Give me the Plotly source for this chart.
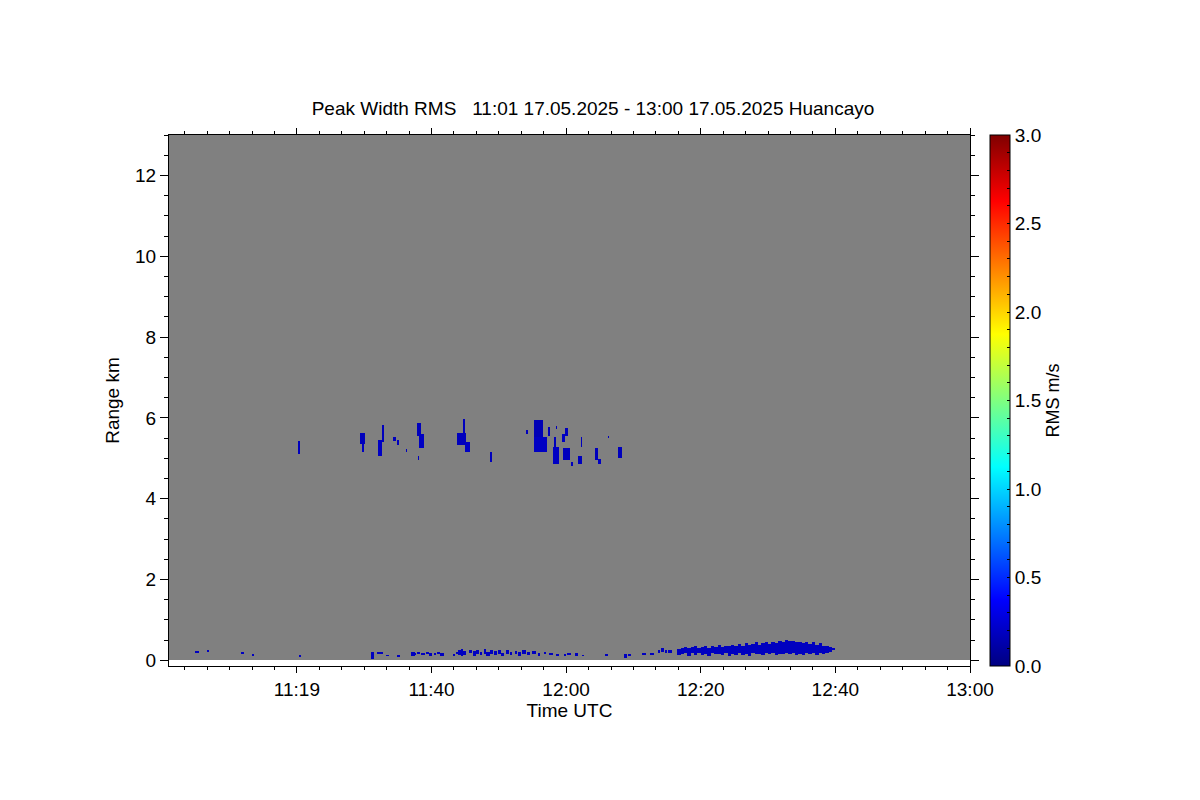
import numpy as np
import pandas as pd
import plotly.graph_objects as go

# ---------------- data (times in minutes after 11:00 UTC, 17.05.2025) ----------------
DAY_START = "2025-05-17 11:00:00"
T_FIRST_MIN = 1.0       # 11:01
T_LAST_MIN = 120.0      # 13:00
RANGE_MAX_KM = 13.0

# mid-level cloud echoes (~5-6 km)
cloud_t0 = [20.1, 29.4, 29.7, 32.6, 32.0, 34.3, 34.8, 36.2, 37.8, 38.1, 38.0,
            44.7, 43.8, 45.0, 48.7, 54.0, 55.2, 55.1, 57.3, 58.1, 58.0, 58.5,
            59.9, 59.4, 59.5, 60.6, 61.8, 62.1, 64.3, 64.6, 66.1, 67.6]
cloud_t1 = [20.5, 30.2, 30.0, 33.0, 32.7, 34.7, 35.1, 36.4, 38.5, 38.8, 38.2,
            45.0, 45.2, 45.6, 49.0, 54.3, 56.5, 57.2, 57.6, 58.5, 59.0, 58.7,
            60.3, 59.9, 60.5, 61.0, 62.4, 62.4, 64.6, 65.2, 66.3, 68.4]
cloud_bottom = [5.10, 5.35, 5.16, 5.40, 5.04, 5.42, 5.33, 5.14, 5.55, 5.26, 4.96,
                5.63, 5.33, 5.14, 4.91, 5.60, 5.38, 5.14, 5.55, 5.25, 4.86, 5.73,
                5.55, 5.40, 4.96, 4.79, 4.84, 5.28, 4.94, 4.84, 5.50, 4.99]
cloud_top = [5.42, 5.63, 5.35, 5.83, 5.45, 5.52, 5.45, 5.23, 5.88, 5.60, 5.06,
             5.98, 5.63, 5.40, 5.16, 5.70, 5.95, 5.53, 5.78, 5.53, 5.28, 5.80,
             5.75, 5.60, 5.26, 4.89, 5.04, 5.53, 5.26, 4.98, 5.55, 5.28]
cloud_rms = [0.18, 0.18, 0.20, 0.18, 0.20, 0.18, 0.18, 0.18, 0.18, 0.20, 0.18,
             0.18, 0.18, 0.20, 0.18, 0.18, 0.16, 0.20, 0.18, 0.18, 0.20, 0.18,
             0.18, 0.20, 0.18, 0.18, 0.18, 0.18, 0.18, 0.20, 0.18, 0.18]

# boundary-layer echoes near the ground (columns)
bl_t = [4.9, 5.1, 6.6, 11.7, 13.3, 20.3, 31.0, 31.9, 32.4, 33.2, 34.9,
        37.0, 37.3, 37.9, 38.5, 39.2, 39.6, 40.3, 40.9, 41.4,
        43.1, 43.6, 44.0, 44.3, 44.7, 45.5, 46.2, 46.6, 47.1, 47.8, 48.2, 48.7,
        49.3, 49.9, 50.4, 51.0, 51.6, 52.3, 52.9, 53.5, 54.2, 55.0, 55.8, 56.6,
        57.5, 58.5, 59.6, 60.2, 61.4, 62.3, 65.8, 68.6, 69.2, 71.4, 72.5,
        73.6, 74.1, 74.6, 75.2,
        76.5, 77.0, 77.5, 78.0, 78.5, 79.0, 79.5, 80.0, 80.5, 81.0, 81.5, 82.0,
        82.5, 83.0, 83.5, 84.0, 84.5, 85.0, 85.5, 86.0, 86.5, 87.0, 87.5, 88.0,
        88.5, 89.0, 89.5, 90.0, 90.5, 91.0, 91.5, 92.0, 92.5, 93.0, 93.5, 94.0,
        94.5, 95.0, 95.5, 96.0, 96.5, 97.0, 97.5, 98.0, 98.5, 99.0, 99.5]
bl_bottom = [0.18, 0.18, 0.20, 0.15, 0.10, 0.08, 0.02, 0.15, 0.14, 0.10, 0.08,
             0.10, 0.12, 0.14, 0.12, 0.14, 0.10, 0.13, 0.14, 0.10,
             0.10, 0.15, 0.12, 0.10, 0.12, 0.18, 0.10, 0.15, 0.12, 0.15, 0.10, 0.16,
             0.12, 0.15, 0.10, 0.15, 0.12, 0.15, 0.10, 0.16, 0.12, 0.14, 0.10, 0.14,
             0.12, 0.10, 0.10, 0.12, 0.10, 0.10, 0.10, 0.05, 0.10, 0.12, 0.13,
             0.17, 0.20, 0.18, 0.17,
             0.12, 0.15, 0.18, 0.11, 0.17, 0.13, 0.18, 0.12, 0.14, 0.10, 0.17, 0.14,
             0.15, 0.12, 0.17, 0.10, 0.16, 0.13, 0.18, 0.12, 0.15, 0.11, 0.17, 0.14,
             0.16, 0.12, 0.18, 0.14, 0.17, 0.12, 0.16, 0.14, 0.18, 0.15, 0.17, 0.12,
             0.16, 0.12, 0.17, 0.14, 0.18, 0.13, 0.17, 0.15, 0.18, 0.20, 0.25]
bl_top = [0.22, 0.22, 0.25, 0.20, 0.14, 0.13, 0.20, 0.20, 0.19, 0.13, 0.12,
          0.20, 0.18, 0.20, 0.17, 0.20, 0.18, 0.18, 0.20, 0.17,
          0.16, 0.20, 0.25, 0.27, 0.22, 0.24, 0.22, 0.25, 0.20, 0.27, 0.20, 0.24,
          0.22, 0.25, 0.18, 0.24, 0.20, 0.23, 0.20, 0.24, 0.20, 0.22, 0.18, 0.20,
          0.17, 0.15, 0.14, 0.17, 0.18, 0.13, 0.14, 0.15, 0.15, 0.17, 0.18,
          0.25, 0.30, 0.26, 0.24,
          0.28, 0.30, 0.33, 0.30, 0.32, 0.35, 0.30, 0.32, 0.35, 0.30, 0.36, 0.33,
          0.37, 0.32, 0.36, 0.35, 0.38, 0.36, 0.40, 0.35, 0.42, 0.38, 0.40, 0.44,
          0.38, 0.42, 0.45, 0.40, 0.46, 0.42, 0.47, 0.44, 0.50, 0.48, 0.47, 0.45,
          0.46, 0.42, 0.44, 0.40, 0.45, 0.38, 0.42, 0.36, 0.35, 0.32, 0.30]
BL_COLUMN_WIDTH_MIN = 0.45
BL_RMS = 0.19

tick_times = ["11:20", "11:40", "12:00", "12:20", "12:40", "13:00"]
tick_labels = ["11:19", "11:40", "12:00", "12:20", "12:40", "13:00"]
range_ticks = [0, 2, 4, 6, 8, 10, 12]

# ---------------- gridding ----------------
DT = 1.0 / 6.0          # 10 s
DR = 0.025              # 25 m
t_edges = np.arange(T_FIRST_MIN, T_LAST_MIN + DT / 2, DT)
r_edges = np.arange(0.0, RANGE_MAX_KM + DR / 2, DR)
t_c = 0.5 * (t_edges[:-1] + t_edges[1:])
r_c = 0.5 * (r_edges[:-1] + r_edges[1:])
z = np.full((len(r_c), len(t_c)), np.nan, dtype=np.float32)


def fill(t0, t1, b, tp, v):
    i0 = int(np.searchsorted(t_c, t0))
    i1 = max(int(np.searchsorted(t_c, t1)), i0 + 1)
    j0 = int(np.searchsorted(r_c, b))
    j1 = max(int(np.searchsorted(r_c, tp)), j0 + 1)
    z[j0:j1, i0:i1] = v


for a, b_, c, d, v in zip(cloud_t0, cloud_t1, cloud_bottom, cloud_top, cloud_rms):
    fill(a, b_, c, d, v)
for t, b_, tp in zip(bl_t, bl_bottom, bl_top):
    fill(t, t + BL_COLUMN_WIDTH_MIN, b_, tp, BL_RMS)

base = pd.Timestamp(DAY_START)
x_c = base + pd.to_timedelta(t_c, unit="min")
x_first = base + pd.to_timedelta(T_FIRST_MIN, unit="min")
x_last = base + pd.to_timedelta(T_LAST_MIN, unit="min")
tickvals = [pd.Timestamp("2025-05-17 " + s) for s in tick_times]

jet = [[0.0, "rgb(0,0,128)"], [0.125, "rgb(0,0,255)"], [0.375, "rgb(0,255,255)"],
       [0.625, "rgb(255,255,0)"], [0.875, "rgb(255,0,0)"], [1.0, "rgb(128,0,0)"]]

cb_vals = [round(0.1 * k, 1) for k in range(31)]
cb_text = [f"{v:.1f}" if abs(v * 2 - round(v * 2)) < 1e-6 else "" for v in cb_vals]

fig = go.Figure()
# no-data background (grey)
fig.add_trace(go.Heatmap(
    x=[x_first, x_last], y=[r_edges[0], r_edges[-1]], z=[[1]],
    colorscale=[[0, "#808080"], [1, "#808080"]], showscale=False, hoverinfo="skip"))
fig.add_trace(go.Heatmap(
    x=x_c, y=r_c, z=z, zmin=0, zmax=3, colorscale=jet, hoverinfo="skip",
    colorbar=dict(
        x=1.025, xanchor="left", y=0.5, yanchor="middle", len=1.0, lenmode="fraction",
        thickness=20, xpad=0, ypad=0, outlinecolor="black", outlinewidth=1,
        tickmode="array", tickvals=cb_vals, ticktext=cb_text,
        ticks="inside", ticklen=3, tickcolor="black",
        tickfont=dict(size=19, color="black"),
        title=dict(text="RMS m/s", side="right", font=dict(size=18, color="black")),
    )))

font = "Liberation Sans, Arial, Helvetica, sans-serif"
fig.update_layout(
    width=1200, height=800,
    margin=dict(l=161, r=238, t=127, b=142),
    paper_bgcolor="white", plot_bgcolor="white",
    font=dict(family=font, size=19, color="black"),
    title=dict(text="Peak Width RMS &nbsp; 11:01 17.05.2025 - 13:00 17.05.2025 Huancayo",
               x=585 / 1200, xanchor="center", xref="container",
               y=1 - 100 / 800, yanchor="middle", yref="container",
               font=dict(size=19, color="black")),
    xaxis=dict(type="date", range=[x_first, x_last], tickmode="array",
               tickvals=tickvals, ticktext=tick_labels,
               ticks="outside", ticklen=6, tickwidth=1, tickcolor="black",
               showline=True, linecolor="black", linewidth=1, mirror="ticks",
               showgrid=False, zeroline=False,
               minor=dict(ticks="outside", ticklen=3, tickcolor="black",
                          tickmode="linear", tick0=DAY_START, dtick=200000, showgrid=False),
               title=dict(text="Time UTC", standoff=0, font=dict(size=19))),
    yaxis=dict(range=[-0.14, RANGE_MAX_KM], tickmode="array", tickvals=range_ticks,
               ticks="outside", ticklen=8, tickwidth=1, tickcolor="black",
               showline=True, linecolor="black", linewidth=1, mirror="ticks",
               showgrid=False, zeroline=False,
               minor=dict(ticks="outside", ticklen=4, tickcolor="black",
                          tickmode="linear", tick0=0, dtick=0.5, showgrid=False),
               title=dict(text="Range km", standoff=10, font=dict(size=19))),
)

fig.write_html("out.html")
